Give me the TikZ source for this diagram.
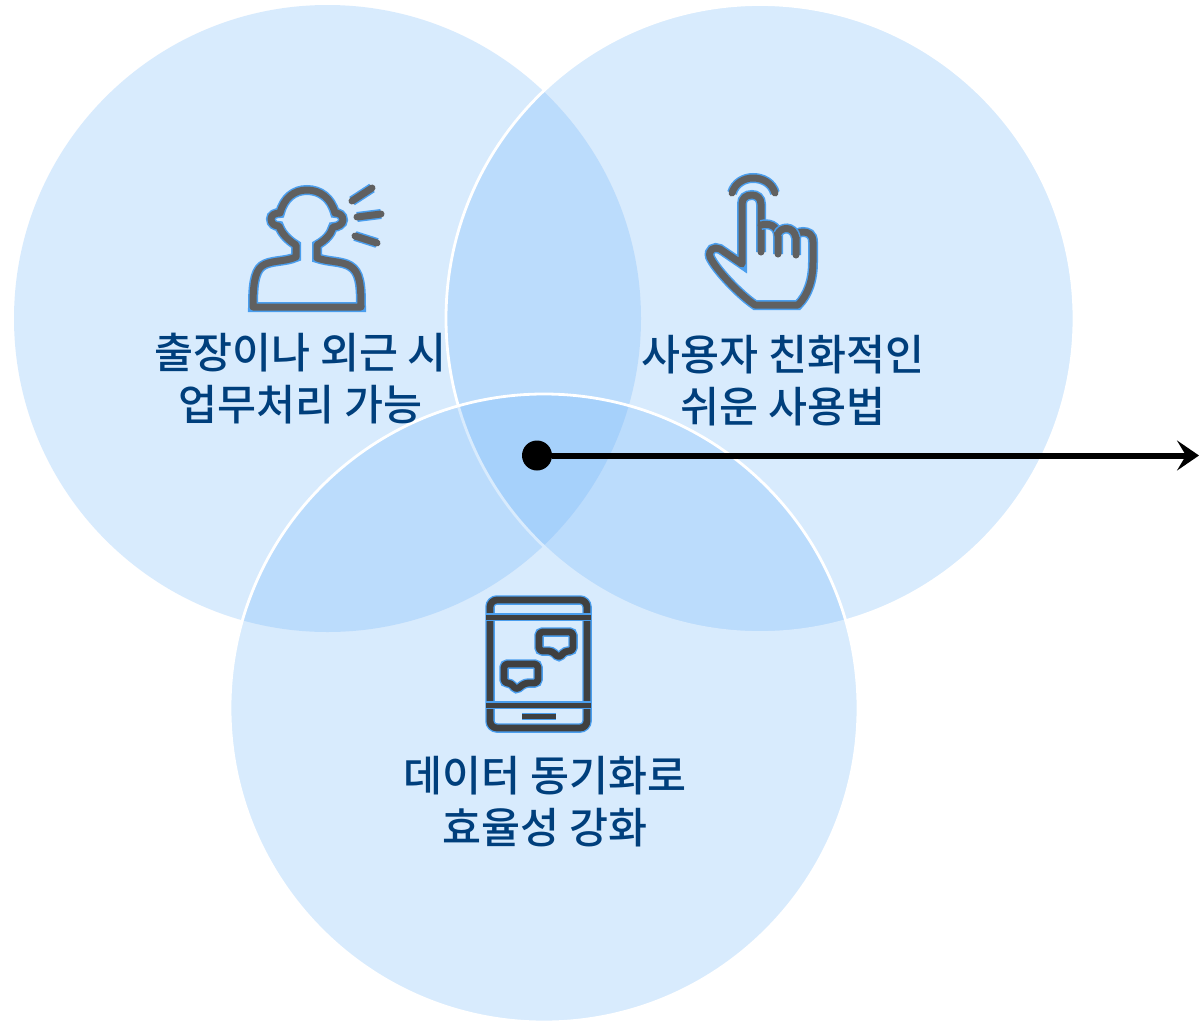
\documentclass[tikz,border=0pt]{standalone}
\usepackage{fontspec}
\usetikzlibrary{arrows.meta}
\newfontfamily\krfont{Noto Sans CJK KR Medium}
\definecolor{venn}{HTML}{6BB2FA}
\definecolor{iconblue}{HTML}{4A9EEE}
\definecolor{icongray}{HTML}{606060}
\definecolor{icondark}{HTML}{404040}
\definecolor{labelblue}{HTML}{003F7C}
\tikzset{
  vennfill/.style={fill=venn,fill opacity=.26},
  venncirc/.style={vennfill,draw=white,line width=2.8pt},
  lbl/.style={font=\krfont\fontsize{42.4}{52}\selectfont,text=labelblue,align=center,inner sep=0pt},
  iconp/.style={preaction={draw=iconblue,line width=10pt},draw=icongray,line width=7pt,line join=round,line cap=round},
  icont/.style={preaction={draw=iconblue,line width=9.5pt},draw=icondark,line width=6.8pt,line join=round,line cap=round},
  iconthin/.style={preaction={draw=iconblue,line width=7.4pt},draw=icondark,line width=5pt,line cap=butt},
}
\begin{document}
\begin{tikzpicture}[x=1pt,y=-1pt]
\useasboundingbox (0,0) rectangle (1199,1020);
\fill[white] (0,0) rectangle (1199,1020);
% circles
\path[vennfill] (327.5,318.5) circle[radius=313.5pt];
\path[venncirc] (760,318.5) circle[radius=314pt];
\path[venncirc] (544,708) circle[radius=314pt];
% person icon
\path[iconp] (253,307) -- (361,307)
  .. controls (361,285) and (360,272) .. (350,266)
  .. controls (342,261) and (328,262) .. (317,258)
  -- (317,245)
  .. controls (326,240) and (331,234) .. (333,227)
  .. controls (338,227) and (343,224) .. (343,220)
  .. controls (343,215) and (339,213) .. (335,213)
  .. controls (331,198) and (320,190) .. (307,190)
  .. controls (294,190) and (284,198) .. (280,213)
  .. controls (275,213) and (271,215) .. (271,219)
  .. controls (271,224) and (275,226) .. (279,226)
  .. controls (282,234) and (288,240) .. (296,245)
  -- (296,257)
  .. controls (285,262) and (270,260) .. (262,266)
  .. controls (254,272) and (253,288) .. (253,307) -- cycle;
\path[iconp] (352,201) -- (372,188);
\path[iconp] (357,217) -- (381,214);
\path[iconp] (355,236) -- (377,243);
% hand icon
\path[iconp] (732,193) .. controls (735,183) and (744,178) .. (753,178) .. controls (763,178) and (772,183) .. (775,193);
\path[iconp] (761,252) -- (761,204)
  .. controls (761,198) and (757,195) .. (752,195)
  .. controls (746,195) and (742,198) .. (742,204)
  -- (742,264)
  -- (720,249)
  .. controls (714,246) and (708,250) .. (710,257)
  .. controls (716,270) and (740,295) .. (755,305)
  -- (798,305)
  .. controls (808,295) and (813,280) .. (813,262)
  -- (813,242)
  .. controls (813,234) and (808,232) .. (803,232)
  .. controls (799,232) and (796,234) .. (796,238)
  -- (796,255);
\path[iconp] (761,225) .. controls (768,223) and (778,225) .. (778,236) -- (778,254);
\path[iconp] (778,234) .. controls (780,227) and (794,225) .. (796,238);
% tablet icon
\path[icont,rounded corners=7pt] (490,600) rectangle (587,728);
\path[iconthin] (486,617) -- (591,617);
\path[iconthin] (486,705) -- (591,705);
\path[iconthin] (522,716.5) -- (556,716.5);
\path[icont,rounded corners=3.5pt] (539,632) -- (573,632) -- (573,651) -- (565,651) -- (559,658) -- (552,651) -- (539,651) -- cycle;
\path[icont,rounded corners=3.5pt] (504,664) -- (538,664) -- (538,683) -- (525,683) -- (516,690) -- (511,683) -- (504,683) -- cycle;
% labels
\node[lbl] (l1) at (300.5,378.5) {출장이나 외근 시\\업무처리 가능};
\node[lbl] (l2) at (783,381) {사용자 친화적인\\쉬운 사용법};
\node[lbl] (l3) at (545,801.5) {데이터 동기화로\\효율성 강화};
% pointer
\node[circle,fill=black,minimum size=30pt,inner sep=0pt] (dot) at (537,455.5) {};
\coordinate (tip) at (1199,455.5);
\draw[line width=6pt,-{Stealth[length=22pt,width=30pt,inset=9pt]}] (dot) -- (tip);
\end{tikzpicture}
\end{document}
